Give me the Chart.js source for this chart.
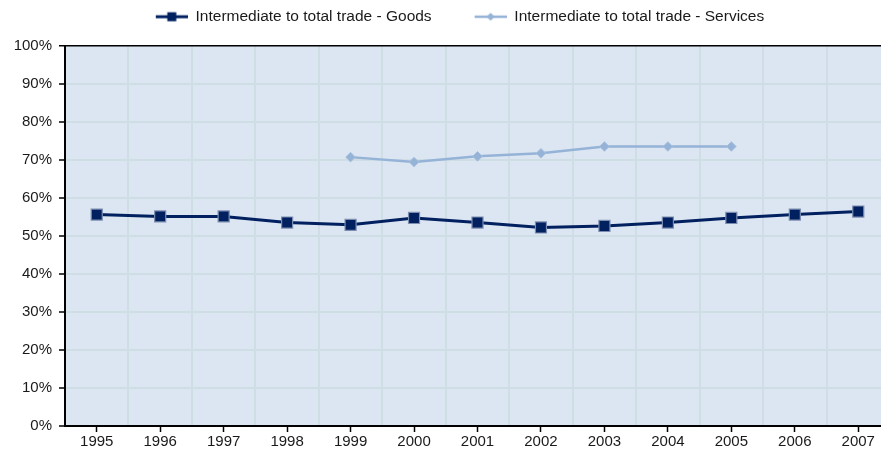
<!DOCTYPE html>
<html>
<head>
<meta charset="utf-8">
<script src="https://cdn.jsdelivr.net/npm/chart.js@4"></script>
<style>
  html, body { margin: 0; padding: 0; background: #fff; overflow: hidden; }
  #wrap { width: 899px; height: 453px; }
  #tradeChart { display: block; }
</style>
</head>
<body>
<div id="wrap"><canvas id="tradeChart" width="899" height="453"></canvas></div>
<script>
const years = ["1995", "1996", "1997", "1998", "1999", "2000", "2001", "2002", "2003", "2004", "2005", "2006", "2007"];
const goodsShare = [55.6, 55.1, 55.1, 53.5, 52.9, 54.7, 53.5, 52.2, 52.6, 53.5, 54.7, 55.6, 56.4];
const servicesShare = [null, null, null, null, 70.7, 69.4, 70.9, 71.7, 73.5, 73.5, 73.5, null, null];
const yTicks = [0, 10, 20, 30, 40, 50, 60, 70, 80, 90, 100];

const navy = "#002060";
const lightBlue = "#95b3d7";

// legend icons: line with marker, drawn on the right part of a wider box
function legendIcon(color, width, marker) {
  const c = document.createElement("canvas");
  c.width = 53;
  c.height = 14;
  const g = c.getContext("2d");
  g.strokeStyle = color;
  g.lineWidth = width;
  g.beginPath();
  g.moveTo(21, 7);
  g.lineTo(53, 7);
  g.stroke();
  g.fillStyle = color;
  if (marker === "square") {
    g.fillRect(32.5, 2.5, 9, 9);
  } else {
    g.beginPath();
    g.moveTo(37, 3); g.lineTo(41, 7); g.lineTo(37, 11); g.lineTo(33, 7);
    g.closePath();
    g.fill();
  }
  return c;
}
const legendIcons = [legendIcon(navy, 3, "square"), legendIcon(lightBlue, 2.5, "diamond")];

const plotBackground = {
  id: "plotBackground",
  beforeDraw(chart) {
    const a = chart.chartArea;
    const ctx = chart.ctx;
    ctx.save();
    ctx.fillStyle = "#dce6f2";
    ctx.fillRect(a.left, a.top, a.right - a.left, a.bottom - a.top);
    ctx.restore();
  }
};

Chart.defaults.font.family = "'Liberation Sans', Arial, sans-serif";
Chart.defaults.font.size = 15;
Chart.defaults.color = "#1a1a1a";

new Chart(document.getElementById("tradeChart"), {
  type: "line",
  data: {
    labels: years,
    datasets: [{
      label: "Intermediate to total trade - Goods",
      data: goodsShare,
      borderColor: navy,
      backgroundColor: navy,
      borderWidth: 3,
      pointStyle: "rect",
      pointRadius: 7.8,
      pointBorderColor: "#7d8db0",
      pointBorderWidth: 1.2,
      tension: 0
    }, {
      label: "Intermediate to total trade - Services",
      data: servicesShare,
      borderColor: lightBlue,
      backgroundColor: lightBlue,
      borderWidth: 2.5,
      pointStyle: "rectRot",
      pointRadius: 4.8,
      pointBorderColor: "#a9c0dd",
      pointBorderWidth: 1,
      tension: 0
    }]
  },
  options: {
    responsive: false,
    animation: false,
    layout: { padding: { top: -13, right: 0, left: 0, bottom: 0 } },
    plugins: {
      legend: {
        position: "top",
        labels: {
          usePointStyle: true,
          pointStyleWidth: 53,
          boxHeight: 14,
          padding: 22,
          font: { size: 15.5 },
          generateLabels(chart) {
            const items = Chart.defaults.plugins.legend.labels.generateLabels(chart);
            items.forEach((it, i) => { it.pointStyle = legendIcons[i]; });
            return items;
          }
        }
      },
      // empty spacer between legend and plot
      subtitle: {
        display: true,
        text: "",
        position: "top",
        weight: 500,
        padding: { top: 10, bottom: 0 },
        font: { size: 1 }
      },
      tooltip: { enabled: false }
    },
    scales: {
      x: {
        type: "category",
        position: "bottom",
        weight: 1,
        offset: true,
        grid: { offset: true, drawTicks: false, color: "#cfdde4", lineWidth: 2 },
        border: { display: false },
        ticks: { padding: 1, maxRotation: 0, autoSkip: false },
        afterFit(scale) { scale.height = 21; }
      },
      xTicks: {
        type: "category",
        position: "bottom",
        weight: 0,
        labels: years,
        offset: true,
        grid: { drawOnChartArea: false, drawTicks: true, tickLength: 6, tickColor: "#000", tickWidth: 1.5 },
        border: { display: true, color: "#000", width: 2 },
        ticks: { display: false },
        afterFit(scale) { scale.height = 6; }
      },
      y: {
        min: 0,
        max: 100,
        afterBuildTicks(scale) { scale.ticks = yTicks.map(v => ({ value: v })); },
        grid: {
          color: ctx => (ctx.tick && ctx.tick.value === 100 ? "#000" : "#cfdde4"),
          lineWidth: ctx => (ctx.tick && ctx.tick.value === 100 ? 1.5 : 2),
          tickColor: "#000",
          tickLength: 6,
          tickWidth: 1.5
        },
        border: { color: "#000", width: 2 },
        ticks: { padding: 7, callback: v => v + "%" },
        afterFit(scale) { scale.width = 65; }
      }
    }
  },
  plugins: [plotBackground]
});
</script>
</body>
</html>
